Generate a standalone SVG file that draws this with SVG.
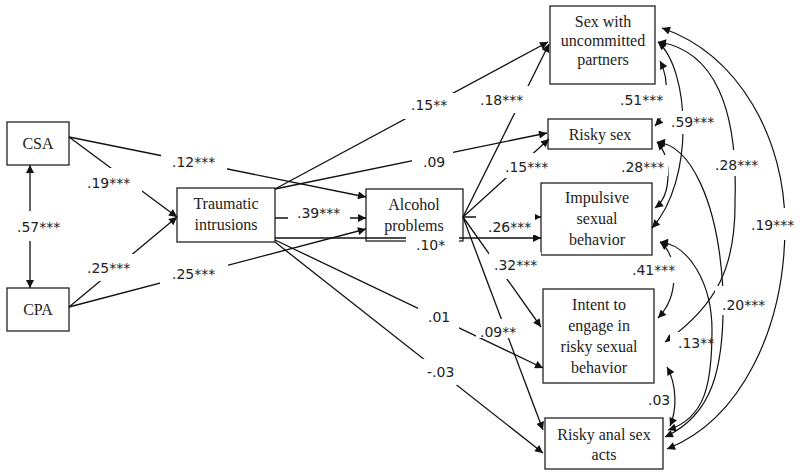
<svg xmlns="http://www.w3.org/2000/svg" width="800" height="476" viewBox="0 0 800 476">
<style>
.box{fill:#fff;stroke:#222;stroke-width:1.3}
.nt{font-family:"Liberation Serif","Times New Roman",serif;font-size:16px;fill:#222;text-anchor:middle}
.ln{fill:none;stroke:#111;stroke-width:1.3}
.cv{fill:none;stroke:#111;stroke-width:1.2}
.lb{font-family:"DejaVu Sans",Verdana,sans-serif;font-size:14px;fill:#222}
.bg{fill:#fff;stroke:none}
</style>
<defs>
<marker id="ah" viewBox="0 0 10 10" refX="10" refY="5" markerWidth="10" markerHeight="8" markerUnits="userSpaceOnUse" orient="auto-start-reverse"><path d="M0,0 L10,5 L0,10 z" fill="#111"/></marker>
</defs>
<rect width="800" height="476" fill="#fff"/>

<g id="node-csa"><rect class="box" x="7" y="122" width="62" height="43"/><text class="nt" x="38" y="149">CSA</text></g>
<g id="node-cpa"><rect class="box" x="7" y="288" width="62" height="43"/><text class="nt" x="38" y="315">CPA</text></g>
<g id="node-ti"><rect class="box" x="177" y="188" width="98" height="54"/><text class="nt" x="226" y="209">Traumatic</text><text class="nt" x="226" y="230">intrusions</text></g>
<g id="node-ap"><rect class="box" x="366" y="189" width="97" height="52"/><text class="nt" x="414" y="210">Alcohol</text><text class="nt" x="414" y="231">problems</text></g>
<g id="node-su"><rect class="box" x="550" y="6" width="105" height="78"/><text class="nt" x="603" y="27">Sex with</text><text class="nt" x="603" y="46">uncommitted</text><text class="nt" x="603" y="65">partners</text></g>
<g id="node-rs"><rect class="box" x="548" y="119" width="104" height="30"/><text class="nt" x="600" y="140">Risky sex</text></g>
<g id="node-is"><rect class="box" x="541" y="183" width="111" height="72"/><text class="nt" x="597" y="203">Impulsive</text><text class="nt" x="597" y="224">sexual</text><text class="nt" x="597" y="245">behavior</text></g>
<g id="node-in"><rect class="box" x="543" y="289" width="111" height="94"/><text class="nt" x="599" y="310">Intent to</text><text class="nt" x="599" y="331">engage in</text><text class="nt" x="599" y="352">risky sexual</text><text class="nt" x="599" y="373">behavior</text></g>
<g id="node-ra"><rect class="box" x="545" y="418" width="118" height="51"/><text class="nt" x="604" y="440">Risky anal sex</text><text class="nt" x="604" y="460">acts</text></g>

<g id="connectors">
<line class="ln" x1="30" y1="165" x2="30" y2="288" marker-start="url(#ah)" marker-end="url(#ah)"/>
<line class="ln" x1="69" y1="137" x2="177" y2="217" marker-end="url(#ah)"/>
<line class="ln" x1="69" y1="137" x2="366" y2="197" marker-end="url(#ah)"/>
<line class="ln" x1="69" y1="307" x2="177" y2="217" marker-end="url(#ah)"/>
<line class="ln" x1="69" y1="307" x2="366" y2="229" marker-end="url(#ah)"/>
<line class="ln" x1="275" y1="218" x2="366" y2="218" marker-end="url(#ah)"/>
<line class="ln" x1="275" y1="189" x2="548" y2="42" marker-end="url(#ah)"/>
<line class="ln" x1="275" y1="189" x2="547" y2="133" marker-end="url(#ah)"/>
<line class="ln" x1="275" y1="238" x2="541" y2="238" marker-end="url(#ah)"/>
<line class="ln" x1="275" y1="240" x2="543" y2="368" marker-end="url(#ah)"/>
<line class="ln" x1="275" y1="242" x2="543" y2="453" marker-end="url(#ah)"/>
<line class="ln" x1="463" y1="217" x2="549" y2="44" marker-end="url(#ah)"/>
<line class="ln" x1="463" y1="217" x2="549" y2="139" marker-end="url(#ah)"/>
<line class="ln" x1="463" y1="217" x2="541" y2="217" marker-end="url(#ah)"/>
<line class="ln" x1="463" y1="217" x2="541" y2="327" marker-end="url(#ah)"/>
<line class="ln" x1="463" y1="217" x2="543" y2="430" marker-end="url(#ah)"/>
<path class="cv" d="M660,61 C670,80 668,112 655,126" marker-start="url(#ah)" marker-end="url(#ah)"/>
<path class="cv" d="M658,42 C690,70 695,180 652,228" marker-start="url(#ah)" marker-end="url(#ah)"/>
<path class="cv" d="M658,42 C715,50 738,110 735,200 C736,265 718,305 665,342" marker-start="url(#ah)" marker-end="url(#ah)"/>
<path class="cv" d="M662,28 C740,55 785,140 785,225 C785,330 740,420 667,449" marker-start="url(#ah)" marker-end="url(#ah)"/>
<path class="cv" d="M657,142 C672,158 672,195 655,208" marker-start="url(#ah)" marker-end="url(#ah)"/>
<path class="cv" d="M657,142 C690,145 718,200 723,290 C725,370 712,415 665,437" marker-start="url(#ah)" marker-end="url(#ah)"/>
<path class="cv" d="M660,242 C678,255 680,295 658,318" marker-start="url(#ah)" marker-end="url(#ah)"/>
<path class="cv" d="M660,242 C690,245 712,285 712,330 C712,385 705,418 668,430" marker-start="url(#ah)" marker-end="url(#ah)"/>
<path class="cv" d="M667,367 C677,385 677,410 670,426" marker-start="url(#ah)" marker-end="url(#ah)"/>
</g>

<g id="edge-labels">
<rect class="bg" x="14" y="211" width="50" height="30"/><text class="lb" x="17" y="232">.57***</text>
<rect class="bg" x="84" y="168" width="58" height="27"/><text class="lb" x="87" y="188">.19***</text>
<rect class="bg" x="161" y="150" width="66" height="24"/><text class="lb" x="172" y="167">.12***</text>
<rect class="bg" x="84" y="254" width="53" height="27"/><text class="lb" x="87" y="273">.25***</text>
<rect class="bg" x="160" y="260" width="68" height="25"/><text class="lb" x="172" y="279">.25***</text>
<rect class="bg" x="288" y="205" width="62" height="20"/><text class="lb" x="297" y="218">.39***</text>
<rect class="bg" x="406" y="236.5" width="53" height="19"/><text class="lb" x="416" y="250">.10*</text>
<rect class="bg" x="404" y="93" width="52" height="26"/><text class="lb" x="411" y="110">.15**</text>
<rect class="bg" x="412" y="150" width="41" height="20"/><text class="lb" x="423" y="167">.09</text>
<rect class="bg" x="476" y="86" width="54" height="27"/><text class="lb" x="480" y="105">.18***</text>
<rect class="bg" x="501" y="153" width="50" height="25"/><text class="lb" x="505" y="172">.15***</text>
<rect class="bg" x="476" y="212" width="59" height="23"/><text class="lb" x="488" y="232">.26***</text>
<rect class="bg" x="489" y="252" width="52" height="27"/><text class="lb" x="494" y="270">.32***</text>
<rect class="bg" x="418" y="306" width="41" height="24"/><text class="lb" x="428" y="322">.01</text>
<rect class="bg" x="476" y="319" width="44" height="19"/><text class="lb" x="480" y="337">.09**</text>
<rect class="bg" x="421" y="359" width="36" height="26"/><text class="lb" x="427" y="377">-.03</text>
<rect class="bg" x="615" y="85" width="53" height="33"/><text class="lb" x="620" y="105">.51***</text>
<rect class="bg" x="667" y="111" width="51" height="23"/><text class="lb" x="671" y="127">.59***</text>
<rect class="bg" x="618" y="155" width="50" height="21"/><text class="lb" x="621" y="172">.28***</text>
<rect class="bg" x="712" y="150" width="48" height="26"/><text class="lb" x="715" y="170">.28***</text>
<rect class="bg" x="747" y="208" width="50" height="32"/><text class="lb" x="751" y="230">.19***</text>
<rect class="bg" x="628" y="257" width="51" height="26"/><text class="lb" x="632" y="275">.41***</text>
<rect class="bg" x="715" y="286" width="55" height="29"/><text class="lb" x="722" y="310">.20***</text>
<rect class="bg" x="670" y="332" width="39" height="20"/><text class="lb" x="678" y="348">.13**</text>
<text class="lb" x="648" y="405">.03</text>
</g>
</svg>
